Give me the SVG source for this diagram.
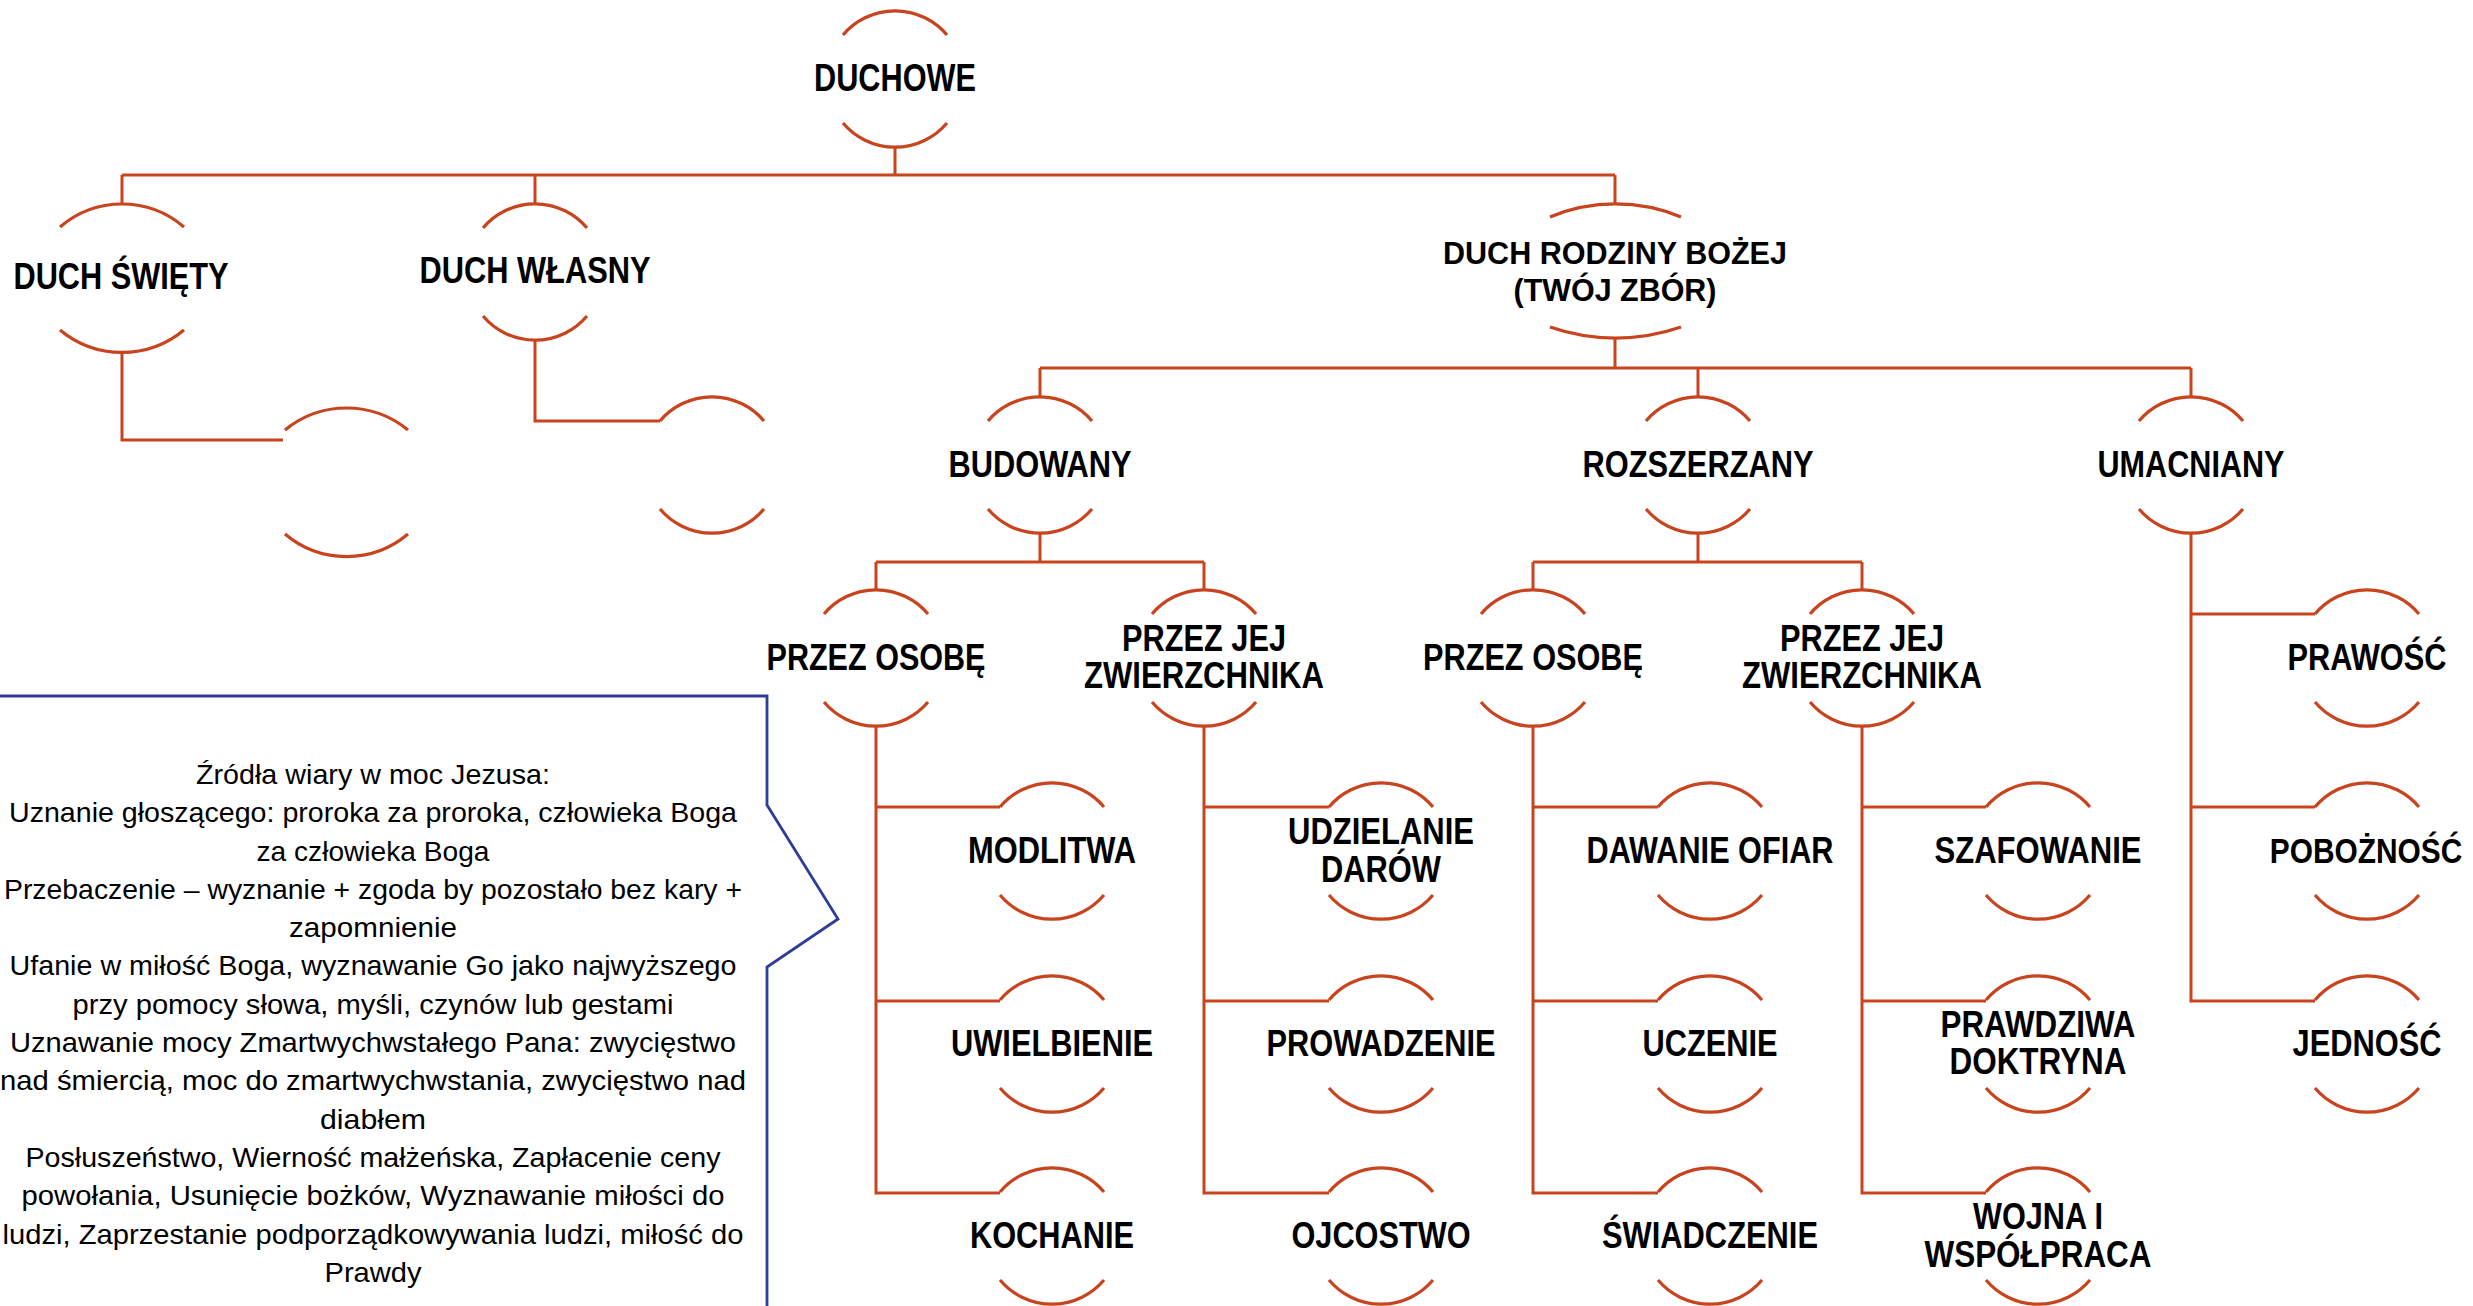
<svg xmlns="http://www.w3.org/2000/svg" xmlns:xlink="http://www.w3.org/1999/xlink" width="2473" height="1306" viewBox="0 0 2473 1306">
<style>
.c{fill:none;stroke:#C8441F;stroke-width:3}
.a{fill:none;stroke:#C8441F;stroke-width:3.2}
.t{font-family:"Liberation Sans",Arial,sans-serif;font-weight:bold;font-size:36px;fill:#000;text-anchor:middle}
.b{font-family:"Liberation Sans",Arial,sans-serif;font-size:28px;fill:#000;text-anchor:middle}
.box{fill:#fff;stroke:#2E3D97;stroke-width:2.8}
</style>
<defs>
<path id="arcs" d="M-52 -44 A68 68 0 0 1 52 -44 M-52 44 A68 68 0 0 0 52 44"/>
</defs>
<rect width="2473" height="1306" fill="#fff"/>
<g id="connectors" class="c">
<path d="M895 147 V175 M122 175 H1615 M122 175 V204 M535 175 V204 M1615 175 V204"/>
<path d="M122 352 V440 H283"/>
<path d="M535 341 V421 H660"/>
<path d="M1615 338 V368 M1040 368 H2191 M1040 368 V397 M1698 368 V397 M2191 368 V397"/>
<path d="M1040 533 V562 M876 562 H1204 M876 562 V590 M1204 562 V590"/>
<path d="M1698 533 V562 M1533 562 H1862 M1533 562 V590 M1862 562 V590"/>
<path d="M2191 533 V1001 H2315 M2191 614 H2315 M2191 807 H2315"/>
<path d="M876 726 V1193 H1000 M876 807 H1000 M876 1001 H1000"/>
<path d="M1204 726 V1193 H1329 M1204 807 H1329 M1204 1001 H1329"/>
<path d="M1533 726 V1193 H1658 M1533 807 H1658 M1533 1001 H1658"/>
<path d="M1862 726 V1193 H1986 M1862 807 H1986 M1862 1001 H1986"/>
</g>
<g id="n-duchowe"><use xlink:href="#arcs" href="#arcs" x="895" y="79" class="a"/><text class="t" x="895" y="91" style="font-size:39px" textLength="162" lengthAdjust="spacingAndGlyphs">DUCHOWE</text></g>
<g id="n-duch-swiety"><path class="a" d="M60 227 A95 95 0 0 1 184 227 M60 330 A97 97 0 0 0 184 330"/><text class="t" x="121" y="289" textLength="215" lengthAdjust="spacingAndGlyphs">DUCH ŚWIĘTY</text></g>
<g id="n-duch-swiety-child"><path class="a" d="M285 430 A97 97 0 0 1 408 430 M285 534 A95 95 0 0 0 408 534"/></g>
<g id="n-duch-wlasny"><use xlink:href="#arcs" href="#arcs" x="535" y="272" class="a"/><text class="t" x="535" y="283" textLength="231" lengthAdjust="spacingAndGlyphs">DUCH WŁASNY</text></g>
<g id="n-duch-wlasny-child"><use xlink:href="#arcs" href="#arcs" x="712" y="465" class="a"/></g>
<g id="n-duch-rodziny"><path class="a" d="M1550 217 A171 171 0 0 1 1681 217 M1550 327 A200 200 0 0 0 1681 327"/><text class="t" x="1615" y="264" style="font-size:31px" textLength="344" lengthAdjust="spacingAndGlyphs">DUCH RODZINY BOŻEJ</text><text class="t" x="1615" y="301" style="font-size:31px" textLength="203" lengthAdjust="spacingAndGlyphs">(TWÓJ ZBÓR)</text></g>
<g id="n-budowany"><use xlink:href="#arcs" href="#arcs" x="1040" y="465" class="a"/><text class="t" x="1040" y="477" textLength="183" lengthAdjust="spacingAndGlyphs">BUDOWANY</text></g>
<g id="n-rozszerzany"><use xlink:href="#arcs" href="#arcs" x="1698" y="465" class="a"/><text class="t" x="1698" y="477" textLength="231" lengthAdjust="spacingAndGlyphs">ROZSZERZANY</text></g>
<g id="n-umacniany"><use xlink:href="#arcs" href="#arcs" x="2191" y="465" class="a"/><text class="t" x="2191" y="477" textLength="187" lengthAdjust="spacingAndGlyphs">UMACNIANY</text></g>
<g id="n-przez-osobe-1"><use xlink:href="#arcs" href="#arcs" x="876" y="658" class="a"/><text class="t" x="876" y="670" textLength="219" lengthAdjust="spacingAndGlyphs">PRZEZ OSOBĘ</text></g>
<g id="n-przez-jej-1"><use xlink:href="#arcs" href="#arcs" x="1204" y="658" class="a"/><text class="t" x="1204" y="651" textLength="164" lengthAdjust="spacingAndGlyphs">PRZEZ JEJ</text><text class="t" x="1204" y="688" textLength="240" lengthAdjust="spacingAndGlyphs">ZWIERZCHNIKA</text></g>
<g id="n-przez-osobe-2"><use xlink:href="#arcs" href="#arcs" x="1533" y="658" class="a"/><text class="t" x="1533" y="670" textLength="220" lengthAdjust="spacingAndGlyphs">PRZEZ OSOBĘ</text></g>
<g id="n-przez-jej-2"><use xlink:href="#arcs" href="#arcs" x="1862" y="658" class="a"/><text class="t" x="1862" y="651" textLength="164" lengthAdjust="spacingAndGlyphs">PRZEZ JEJ</text><text class="t" x="1862" y="688" textLength="240" lengthAdjust="spacingAndGlyphs">ZWIERZCHNIKA</text></g>
<g id="n-prawosc"><use xlink:href="#arcs" href="#arcs" x="2367" y="658" class="a"/><text class="t" x="2367" y="670" textLength="159" lengthAdjust="spacingAndGlyphs">PRAWOŚĆ</text></g>
<g id="n-modlitwa"><use xlink:href="#arcs" href="#arcs" x="1052" y="851" class="a"/><text class="t" x="1052" y="863" textLength="168" lengthAdjust="spacingAndGlyphs">MODLITWA</text></g>
<g id="n-udzielanie"><use xlink:href="#arcs" href="#arcs" x="1381" y="851" class="a"/><text class="t" x="1381" y="844" textLength="186" lengthAdjust="spacingAndGlyphs">UDZIELANIE</text><text class="t" x="1381" y="882" textLength="120" lengthAdjust="spacingAndGlyphs">DARÓW</text></g>
<g id="n-dawanie"><use xlink:href="#arcs" href="#arcs" x="1710" y="851" class="a"/><text class="t" x="1710" y="863" textLength="247" lengthAdjust="spacingAndGlyphs">DAWANIE OFIAR</text></g>
<g id="n-szafowanie"><use xlink:href="#arcs" href="#arcs" x="2038" y="851" class="a"/><text class="t" x="2038" y="863" textLength="207" lengthAdjust="spacingAndGlyphs">SZAFOWANIE</text></g>
<g id="n-poboznosc"><use xlink:href="#arcs" href="#arcs" x="2367" y="851" class="a"/><text class="t" transform="translate(2366 863) scale(0.83 1)" x="0" y="0">POBOŻNOŚĆ</text></g>
<g id="n-uwielbienie"><use xlink:href="#arcs" href="#arcs" x="1052" y="1044" class="a"/><text class="t" x="1052" y="1056" textLength="202" lengthAdjust="spacingAndGlyphs">UWIELBIENIE</text></g>
<g id="n-prowadzenie"><use xlink:href="#arcs" href="#arcs" x="1381" y="1044" class="a"/><text class="t" x="1381" y="1056" textLength="229" lengthAdjust="spacingAndGlyphs">PROWADZENIE</text></g>
<g id="n-uczenie"><use xlink:href="#arcs" href="#arcs" x="1710" y="1044" class="a"/><text class="t" x="1710" y="1056" textLength="135" lengthAdjust="spacingAndGlyphs">UCZENIE</text></g>
<g id="n-prawdziwa"><use xlink:href="#arcs" href="#arcs" x="2038" y="1044" class="a"/><text class="t" x="2038" y="1037" textLength="195" lengthAdjust="spacingAndGlyphs">PRAWDZIWA</text><text class="t" x="2038" y="1074" textLength="177" lengthAdjust="spacingAndGlyphs">DOKTRYNA</text></g>
<g id="n-jednosc"><use xlink:href="#arcs" href="#arcs" x="2367" y="1044" class="a"/><text class="t" x="2367" y="1056" textLength="149" lengthAdjust="spacingAndGlyphs">JEDNOŚĆ</text></g>
<g id="n-kochanie"><use xlink:href="#arcs" href="#arcs" x="1052" y="1236" class="a"/><text class="t" x="1052" y="1248" textLength="164" lengthAdjust="spacingAndGlyphs">KOCHANIE</text></g>
<g id="n-ojcostwo"><use xlink:href="#arcs" href="#arcs" x="1381" y="1236" class="a"/><text class="t" x="1381" y="1248" textLength="179" lengthAdjust="spacingAndGlyphs">OJCOSTWO</text></g>
<g id="n-swiadczenie"><use xlink:href="#arcs" href="#arcs" x="1710" y="1236" class="a"/><text class="t" x="1710" y="1248" textLength="216" lengthAdjust="spacingAndGlyphs">ŚWIADCZENIE</text></g>
<g id="n-wojna"><use xlink:href="#arcs" href="#arcs" x="2038" y="1236" class="a"/><text class="t" x="2038" y="1229" textLength="130" lengthAdjust="spacingAndGlyphs">WOJNA I</text><text class="t" x="2038" y="1267" textLength="227" lengthAdjust="spacingAndGlyphs">WSPÓŁPRACA</text></g>
<g id="callout">
<path class="box" d="M-10 696 H767 V805 L838 919 L767 967 V1320"/>
<text class="b" x="373" y="784" textLength="354" lengthAdjust="spacingAndGlyphs">Źródła wiary w moc Jezusa:</text>
<text class="b" x="373" y="822" textLength="728" lengthAdjust="spacingAndGlyphs">Uznanie głoszącego: proroka za proroka, człowieka Boga</text>
<text class="b" x="373" y="861" textLength="233" lengthAdjust="spacingAndGlyphs">za człowieka Boga</text>
<text class="b" x="373" y="899" textLength="738" lengthAdjust="spacingAndGlyphs">Przebaczenie – wyznanie + zgoda by pozostało bez kary +</text>
<text class="b" x="373" y="937" textLength="168" lengthAdjust="spacingAndGlyphs">zapomnienie</text>
<text class="b" x="373" y="975" textLength="727" lengthAdjust="spacingAndGlyphs">Ufanie w miłość Boga, wyznawanie Go jako najwyższego</text>
<text class="b" x="373" y="1014" textLength="601" lengthAdjust="spacingAndGlyphs">przy pomocy słowa, myśli, czynów lub gestami</text>
<text class="b" x="373" y="1052" textLength="726" lengthAdjust="spacingAndGlyphs">Uznawanie mocy Zmartwychwstałego Pana: zwycięstwo</text>
<text class="b" x="373" y="1090" textLength="746" lengthAdjust="spacingAndGlyphs">nad śmiercią, moc do zmartwychwstania, zwycięstwo nad</text>
<text class="b" x="373" y="1129" textLength="106" lengthAdjust="spacingAndGlyphs">diabłem</text>
<text class="b" x="373" y="1167" textLength="695" lengthAdjust="spacingAndGlyphs">Posłuszeństwo, Wierność małżeńska, Zapłacenie ceny</text>
<text class="b" x="373" y="1205" textLength="703" lengthAdjust="spacingAndGlyphs">powołania, Usunięcie bożków, Wyznawanie miłości do</text>
<text class="b" x="373" y="1244" textLength="741" lengthAdjust="spacingAndGlyphs">ludzi, Zaprzestanie podporządkowywania ludzi, miłość do</text>
<text class="b" x="373" y="1282" textLength="97" lengthAdjust="spacingAndGlyphs">Prawdy</text>
</g>
</svg>
